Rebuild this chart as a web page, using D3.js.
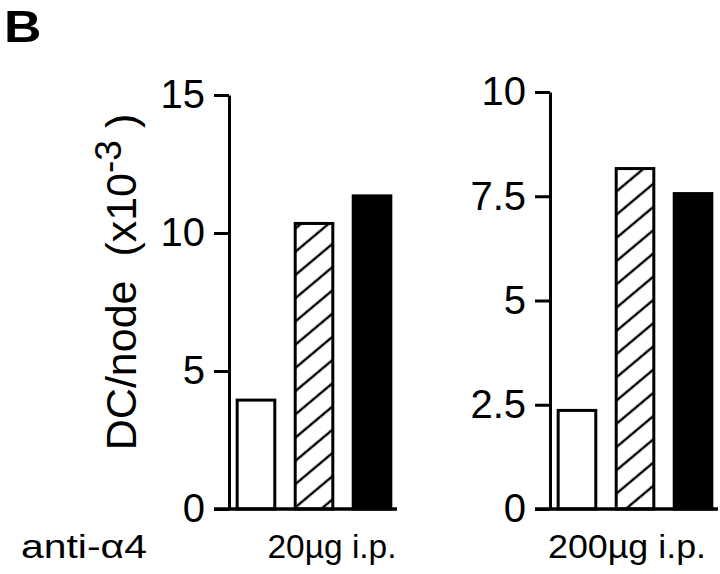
<!DOCTYPE html>
<html>
<head>
<meta charset="utf-8">
<script src="https://cdn.jsdelivr.net/npm/d3@7"></script>
<style>
  html, body { margin: 0; padding: 0; background: #fff; }
  svg { display: block; font-family: "Liberation Sans", Arial, Helvetica, sans-serif; }
  text { white-space: pre; }
</style>
</head>
<body>
<svg id="chart" width="720" height="574"></svg>
<script>
// ---- data ----
const categories = ["open", "hatched", "filled"];
const values20 = [4.0, 10.4, 11.4];
const values200 = [2.4, 8.2, 7.6];
const ticks20 = [0, 5, 10, 15];
const tickLabels20 = ["0", "5", "10", "15"];
const ticks200 = [0, 2.5, 5, 7.5, 10];
const tickLabels200 = ["0", "2.5", "5", "7.5", "10"];
const groupLabels = ["20\u00b5g i.p.", "200\u00b5g i.p."];
const rowLabel = "anti-\u03b14";
const panelLetter = "B";

// ---- layout ----
const svg = d3.select("#chart");
const baseY = 509;
const panels = [
  { values: values20, ticks: ticks20, labels: tickLabels20, max: 15, axisX: 229, topY: 95, labelX: 332, labelW: 129 },
  { values: values200, ticks: ticks200, labels: tickLabels200, max: 10, axisX: 550, topY: 92, labelX: 627, labelW: 158 }
];

const defs = svg.append("defs");
const pw = 17.8;
const pat = defs.append("pattern")
  .attr("id", "hatch")
  .attr("patternUnits", "userSpaceOnUse")
  .attr("width", pw).attr("height", pw)
  .attr("patternTransform", "rotate(50)");
pat.append("rect").attr("width", pw).attr("height", pw).attr("fill", "#fff");
pat.append("line").attr("x1", pw / 2).attr("y1", 0).attr("x2", pw / 2).attr("y2", pw)
  .attr("stroke", "#000").attr("stroke-width", 2.4);

const fills = ["#fff", "url(#hatch)", "#000"];

panels.forEach((p, i) => {
  const y = d3.scaleLinear().domain([0, p.max]).range([baseY, p.topY]);
  const x = d3.scaleBand().domain(categories)
    .range([p.axisX, p.axisX + 170]).paddingInner(0.3).paddingOuter(0.115);

  const g = svg.append("g");

  // bars
  g.selectAll("rect.bar").data(p.values).join("rect")
    .attr("class", "bar")
    .attr("x", (d, j) => x(categories[j]) + 1.5)
    .attr("width", x.bandwidth() - 3)
    .attr("y", d => y(d) + 1.5)
    .attr("height", d => baseY - y(d) - 1.5)
    .attr("fill", (d, j) => fills[j])
    .attr("stroke", "#000")
    .attr("stroke-width", 3);

  // axis
  const axis = d3.axisLeft(y)
    .tickValues(p.ticks)
    .tickFormat((d, k) => p.labels[k])
    .tickSize(15).tickSizeOuter(0).tickPadding(9);
  const ag = g.append("g").attr("transform", `translate(${p.axisX},0)`).call(axis);
  ag.select(".domain").attr("stroke", "#000").attr("stroke-width", 3);
  ag.selectAll(".tick line").attr("stroke", "#000").attr("stroke-width", 3);
  ag.selectAll(".tick text")
    .attr("font-size", 40).attr("fill", "#000")
    .attr("font-family", "Liberation Sans, Arial, sans-serif");

  // baseline
  g.append("line")
    .attr("x1", p.axisX - 15).attr("x2", p.axisX + 168)
    .attr("y1", baseY).attr("y2", baseY)
    .attr("stroke", "#000").attr("stroke-width", 3.5);

  // group label
  svg.append("text")
    .attr("x", p.labelX).attr("y", 558)
    .attr("text-anchor", "middle")
    .attr("font-size", 33)
    .attr("textLength", p.labelW)
    .attr("lengthAdjust", "spacingAndGlyphs")
    .text(groupLabels[i]);
});

// row label
svg.append("text").attr("x", 21).attr("y", 558).attr("font-size", 33)
  .attr("textLength", 126).attr("lengthAdjust", "spacingAndGlyphs")
  .text(rowLabel);

// panel letter
svg.append("text").attr("transform", "translate(4,42) scale(1.15,1)")
  .attr("font-size", 45).attr("font-weight", "bold").text(panelLetter);

// y label
const yl = svg.append("text")
  .attr("transform", "translate(136,282) rotate(-90)")
  .attr("text-anchor", "middle")
  .attr("font-size", 43);
yl.append("tspan").text("DC/node  (x10");
yl.append("tspan").attr("dy", -15).attr("font-size", 37).text("-3");
yl.append("tspan").attr("dy", 15).text(" )");
</script>
</body>
</html>
